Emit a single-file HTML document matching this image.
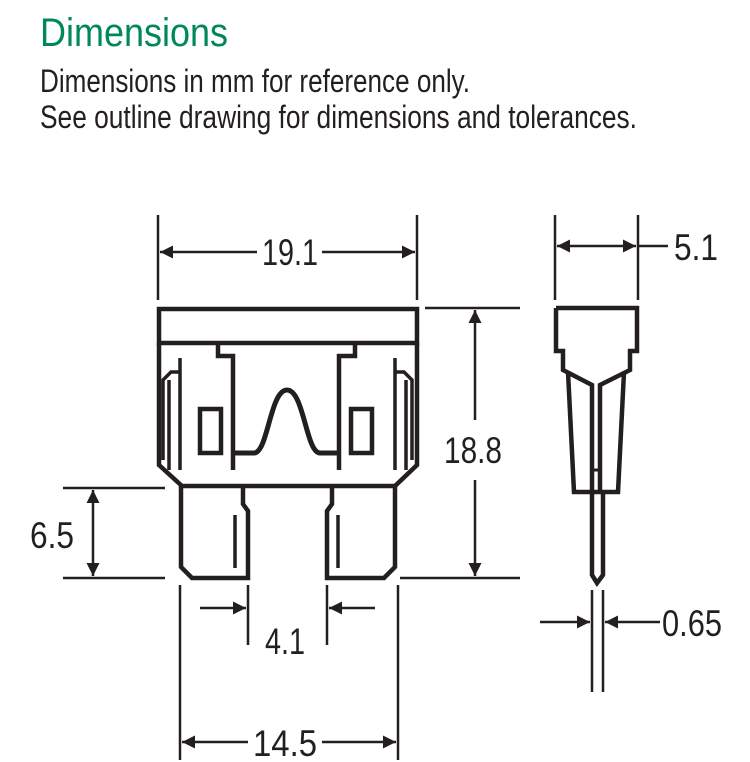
<!DOCTYPE html>
<html><head><style>
html,body{margin:0;padding:0;background:#fff;width:750px;height:762px;overflow:hidden}
svg{display:block}
text{font-family:"Liberation Sans",sans-serif}
</style></head><body>
<svg width="750" height="762" viewBox="0 0 750 762" xmlns="http://www.w3.org/2000/svg">
<defs>
<marker id="a" viewBox="0 0 10 10" refX="10" refY="5" markerWidth="22" markerHeight="13" markerUnits="userSpaceOnUse" orient="auto-start-reverse"><path d="M0,0 L10,5 L0,10 z" fill="#231f20"/></marker>
</defs>
<text x="40" y="46" font-size="40" fill="#00875a" textLength="188" lengthAdjust="spacingAndGlyphs">Dimensions</text>
<text x="40" y="92" font-size="32" fill="#231f20" textLength="430" lengthAdjust="spacingAndGlyphs">Dimensions in mm for reference only.</text>
<text x="40" y="128" font-size="32" fill="#231f20" textLength="597" lengthAdjust="spacingAndGlyphs">See outline drawing for dimensions and tolerances.</text>

<g fill="none" stroke="#231f20" stroke-width="4.5" stroke-linejoin="miter">
<rect x="159" y="309" width="258" height="34"/>
<path d="M159,343 V465 L182,486 H395 L417,465 V343"/>
<path d="M218,343 V356 H233 V470"/>
<path d="M355,343 V356 H339 V470"/>
<path d="M233,453 H254 C268,453 270,390 287,390 C304,390 306,453 320,453 H339" stroke-width="5"/>
<rect x="200" y="409" width="21" height="44"/>
<rect x="351" y="409" width="21" height="44"/>
<path d="M180,358 V470" stroke-width="3.5"/>
<path d="M180,372 H171 L163,380 V460" stroke-width="3.5"/>
<path d="M169,380 V470" stroke-width="3.5"/>
<path d="M395,358 V470" stroke-width="3.5"/>
<path d="M395,372 H404 L412,380 V460" stroke-width="3.5"/>
<path d="M406,380 V470" stroke-width="3.5"/>
<path d="M181,486 V567 L192,578 H248 V511 L243,504 V486"/>
<path d="M235,515 V568" stroke-width="3.5"/>
<path d="M395,486 V567 L384,578 H327 V511 L332,504 V486"/>
<path d="M338,515 V568" stroke-width="3.5"/>
<path d="M556,308 H637 V351 H630 V370 L600,385 V492"/>
<path d="M556,308 V351 H563 V370 L592,385 V492"/>
<path d="M568,372 L574,492 H618 L624,372"/>
<path d="M592,492 V575 L597,583 L603,575 V492"/>
<path d="M592,470 H600" stroke-width="3"/>
</g>

<g stroke="#231f20" stroke-width="2.5" fill="none">
<path d="M158,215 V300 M417,215 V300"/>
<path d="M257,252 H160" marker-end="url(#a)"/>
<path d="M322,252 H415" marker-end="url(#a)"/>
<path d="M555,215 V300 M638,215 V300"/>
<path d="M596,246 H557" marker-end="url(#a)"/>
<path d="M596,246 H636" marker-end="url(#a)"/>
<path d="M638,246 H668"/>
<path d="M425,308 H520 M400,578 H520"/>
<path d="M475,420 V310" marker-end="url(#a)"/>
<path d="M475,480 V576" marker-end="url(#a)"/>
<path d="M63,488 H165 M63,578 H165"/>
<path d="M93,533 V490" marker-end="url(#a)"/>
<path d="M93,533 V576" marker-end="url(#a)"/>
<path d="M248,585 V645 M327,585 V645"/>
<path d="M200,608 H246" marker-end="url(#a)"/>
<path d="M375,608 H329" marker-end="url(#a)"/>
<path d="M180,585 V760 M398,585 V760"/>
<path d="M248,742 H182" marker-end="url(#a)"/>
<path d="M322,742 H396" marker-end="url(#a)"/>
<path d="M592,590 V692 M603,590 V692"/>
<path d="M540,622 H590" marker-end="url(#a)"/>
<path d="M660,622 H605" marker-end="url(#a)"/>
</g>

<g fill="#231f20" font-size="37">
<text x="262" y="265" textLength="56" lengthAdjust="spacingAndGlyphs">19.1</text>
<text x="674" y="260" textLength="44" lengthAdjust="spacingAndGlyphs">5.1</text>
<text x="444" y="463" textLength="58" lengthAdjust="spacingAndGlyphs">18.8</text>
<text x="30" y="548" textLength="44" lengthAdjust="spacingAndGlyphs">6.5</text>
<text x="265" y="654" textLength="40" lengthAdjust="spacingAndGlyphs">4.1</text>
<text x="253" y="756" textLength="64" lengthAdjust="spacingAndGlyphs">14.5</text>
<text x="662" y="636" textLength="60" lengthAdjust="spacingAndGlyphs">0.65</text>
</g>
</svg>
</body></html>
